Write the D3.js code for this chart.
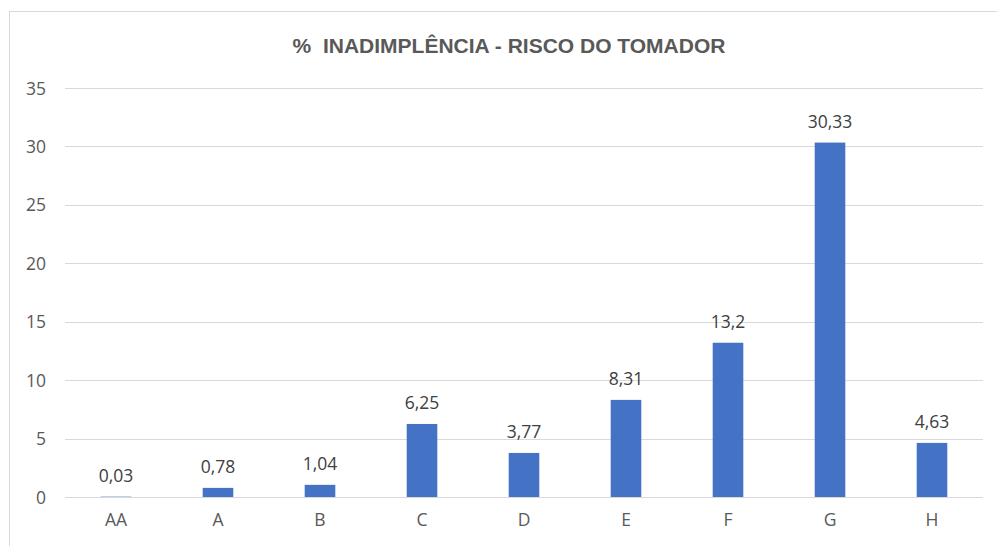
<!DOCTYPE html>
<html>
<head>
<meta charset="utf-8">
<script src="https://cdn.jsdelivr.net/npm/d3@7"></script>
<style>
  body { margin: 0; background: #fff; }
  text { font-family: 'Open Sans', 'Noto Sans', sans-serif; }
</style>
</head>
<body>
<div id="chart"></div>
<script>
const categories = ['AA', 'A', 'B', 'C', 'D', 'E', 'F', 'G', 'H'];
const values = [0.03, 0.78, 1.04, 6.25, 3.77, 8.31, 13.2, 30.33, 4.63];
const labels = ['0,03', '0,78', '1,04', '6,25', '3,77', '8,31', '13,2', '30,33', '4,63'];
const yTicks = [0, 5, 10, 15, 20, 25, 30, 35];
const title = '%  INADIMPLÊNCIA - RISCO DO TOMADOR';

const width = 997;
const height = 546;
const margin = { top: 88, right: 14, bottom: 49, left: 65 };

const svg = d3
  .select('#chart')
  .append('svg')
  .attr('width', width)
  .attr('height', height);

// chart frame
svg
  .append('rect')
  .attr('x', 9.5)
  .attr('y', 11.5)
  .attr('width', width)
  .attr('height', height)
  .attr('fill', 'none')
  .attr('stroke', '#d9d9d9');

svg
  .append('text')
  .text(title)
  .attr('x', 509)
  .attr('y', 53)
  .attr('text-anchor', 'middle')
  .style('white-space', 'pre')
  .style('font-family', "'Liberation Sans Narrow', sans-serif")
  .style('font-weight', 'bold')
  .style('font-size', '21px')
  .style('fill', '#595959');

const x = d3
  .scaleBand()
  .domain(categories)
  .range([margin.left, width - margin.right])
  .paddingInner(0.7)
  .paddingOuter(0.35);

const y = d3
  .scaleLinear()
  .domain([0, 35])
  .range([height - margin.bottom, margin.top]);

// gridlines
svg
  .append('g')
  .selectAll('line')
  .data(yTicks)
  .enter()
  .append('line')
  .attr('x1', margin.left)
  .attr('x2', width - margin.right)
  .attr('y1', d => Math.round(y(d)) + 0.5)
  .attr('y2', d => Math.round(y(d)) + 0.5)
  .attr('stroke', '#d9d9d9')
  .attr('stroke-width', 1);

const yAxis = svg
  .append('g')
  .attr('transform', 'translate(' + (margin.left - 19) + ',0)')
  .call(d3.axisLeft(y).tickValues(yTicks).tickSize(0).tickPadding(0));
yAxis.select('.domain').remove();
yAxis
  .selectAll('text')
  .style('font-size', '17.5px')
  .style('fill', '#595959')
  .attr('dy', '0.35em');

const xAxis = svg
  .append('g')
  .attr('transform', 'translate(0,' + (height - margin.bottom) + ')')
  .call(d3.axisBottom(x).tickSize(0).tickPadding(17));
xAxis.select('.domain').remove();
xAxis
  .selectAll('text')
  .style('font-size', '17.5px')
  .style('fill', '#595959');

svg
  .append('g')
  .selectAll('rect')
  .data(values)
  .enter()
  .append('rect')
  .attr('x', (d, i) => x(categories[i]))
  .attr('y', d => y(d))
  .attr('width', x.bandwidth())
  .attr('height', d => y(0) - y(d))
  .attr('fill', '#4472c4');

svg
  .append('g')
  .selectAll('text')
  .data(values)
  .enter()
  .append('text')
  .text((d, i) => labels[i])
  .attr('x', (d, i) => x(categories[i]) + x.bandwidth() / 2)
  .attr('y', d => y(d) - 15)
  .attr('text-anchor', 'middle')
  .style('font-size', '17.5px')
  .style('fill', '#404040');
</script>
</body>
</html>
